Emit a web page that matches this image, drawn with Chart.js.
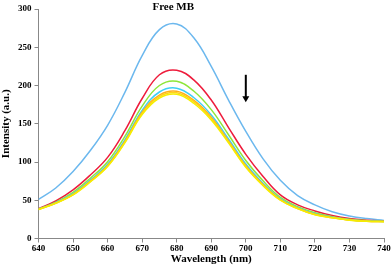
<!DOCTYPE html>
<html>
<head>
<meta charset="utf-8">
<script src="https://cdn.jsdelivr.net/npm/chart.js@4/dist/chart.umd.min.js"></script>
<style>
  html, body { margin: 0; padding: 0; background: #fff; }
  #wrap { width: 392px; height: 267px; }
</style>
</head>
<body>
<div id="wrap"><canvas id="grafico"></canvas></div>
<script>
// longitudes de onda (nm)
const longitudes = [640, 645, 650, 655, 660, 665, 670, 675, 680, 685, 690, 695, 700, 705, 710, 715, 720, 725, 730, 735, 740];

// intensidades
const azul     = [51, 66, 87.5, 115, 148, 191, 239, 273, 280.5, 262, 225, 181, 140, 104, 76, 56, 44, 35, 29.5, 26, 23.5];
const rojo     = [39, 49, 63.5, 83, 106, 141, 183, 214, 220, 207, 181, 145, 110, 81, 57, 44, 36, 30, 26, 24, 23];
const verde    = [38.5, 47.6, 60.4, 78.8, 100.4, 133.5, 173, 200, 205.5, 192.5, 168.5, 135.6, 102, 75.4, 53.7, 41.7, 33.7, 28.6, 25.1, 23.3, 22.5];
const cian     = [38.3, 46.8, 58.6, 76.3, 97, 129, 167.5, 191.5, 196.5, 184, 161.5, 130, 97.3, 72, 51.8, 40.3, 32.3, 27.8, 24.5, 22.9, 22.3];
const naranja  = [38.1, 46.4, 57.8, 75.1, 95.5, 127, 165, 187.5, 192.5, 180.5, 158.5, 127.5, 95.1, 70.5, 50.9, 39.6, 31.6, 27.4, 24.3, 22.7, 22.1];
const dorado   = [38, 46.2, 57.4, 74.5, 94.7, 126, 163.5, 185.5, 190.5, 178.5, 156.8, 126.2, 94, 69.7, 50.4, 39.3, 31.3, 27.2, 24.1, 22.6, 22.1];
const amarillo = [38, 46, 57, 74, 94, 125, 162, 183.5, 188.5, 176.5, 155, 125, 93, 69, 50, 39, 31, 27, 24, 22.5, 22];

const xTicks = [640, 650, 660, 670, 680, 690, 700, 710, 720, 730, 740];
const yTicks = [0, 50, 100, 150, 200, 250, 300];

const series = [
    { datos: amarillo, color: '#f5ee00' },
    { datos: dorado, color: '#ffd21a' },
    { datos: naranja, color: '#ffae1a' },
    { datos: cian, color: '#3fcff5' },
    { datos: verde, color: '#8fe63a' },
    { datos: rojo, color: '#ee1c3c' },
    { datos: azul, color: '#6cb8ee' }
];

function puntos(arr) {
    return longitudes.map((x, i) => ({ x: x, y: arr[i] }));
}

const fuenteTicks = { family: '"Liberation Serif", "Times New Roman", serif', size: 9, weight: 'bold' };
const fuenteTitulo = { family: '"Liberation Serif", "Times New Roman", serif', size: 11, weight: 'bold' };

// titulo y flecha
const extras = {
    id: 'extras',
    afterDraw(chart) {
        const ctx = chart.ctx;
        const x = chart.scales.x;
        const y = chart.scales.y;
        ctx.save();
        ctx.fillStyle = '#000';
        ctx.font = 'bold 11px "Liberation Serif", serif';
        ctx.textAlign = 'center';
        ctx.textBaseline = 'alphabetic';
        ctx.fillText('Free MB', x.getPixelForValue(679), 9.5);

        const ax = x.getPixelForValue(700);
        const y1 = y.getPixelForValue(214);
        const y2 = y.getPixelForValue(178);
        ctx.strokeStyle = '#000';
        ctx.lineWidth = 2;
        ctx.beginPath();
        ctx.moveTo(ax, y1);
        ctx.lineTo(ax, y2 - 5);
        ctx.stroke();
        ctx.beginPath();
        ctx.moveTo(ax - 3.5, y2 - 6);
        ctx.lineTo(ax + 3.5, y2 - 6);
        ctx.lineTo(ax, y2);
        ctx.closePath();
        ctx.fill();
        ctx.restore();
    }
};

new Chart(document.getElementById('grafico'), {
    type: 'line',
    data: {
        datasets: series.map(s => ({
            data: puntos(s.datos),
            borderColor: s.color,
            borderWidth: 1.5,
            pointRadius: 0,
            tension: 0.4,
            fill: false
        }))
    },
    options: {
        responsive: true,
        maintainAspectRatio: false,
        animation: false,
        layout: { padding: { top: 9, right: 8, bottom: 0, left: 0 } },
        plugins: {
            legend: { display: false },
            tooltip: { enabled: false }
        },
        scales: {
            x: {
                type: 'linear',
                min: 640,
                max: 740,
                afterBuildTicks: sc => { sc.ticks = xTicks.map(v => ({ value: v })); },
                afterFit: sc => { sc.height = 28.5; },
                grid: { drawOnChartArea: false, color: '#888', tickLength: 4 },
                border: { color: '#888', width: 1 },
                ticks: { font: fuenteTicks, color: '#000', padding: 1, maxRotation: 0 },
                title: { display: true, text: 'Wavelength (nm)', font: fuenteTitulo, color: '#000', padding: { top: 0, bottom: 1 } }
            },
            y: {
                min: 0,
                max: 300,
                afterBuildTicks: sc => { sc.ticks = yTicks.map(v => ({ value: v })); },
                afterFit: sc => { sc.width = 38.5; },
                grid: { drawOnChartArea: false, color: '#888', tickLength: 4 },
                border: { color: '#888', width: 1 },
                ticks: { font: fuenteTicks, color: '#000', padding: 3 },
                title: { display: true, text: 'Intensity (a.u.)', font: fuenteTitulo, color: '#000', padding: 0 }
            }
        }
    },
    plugins: [extras]
});
</script>
</body>
</html>
